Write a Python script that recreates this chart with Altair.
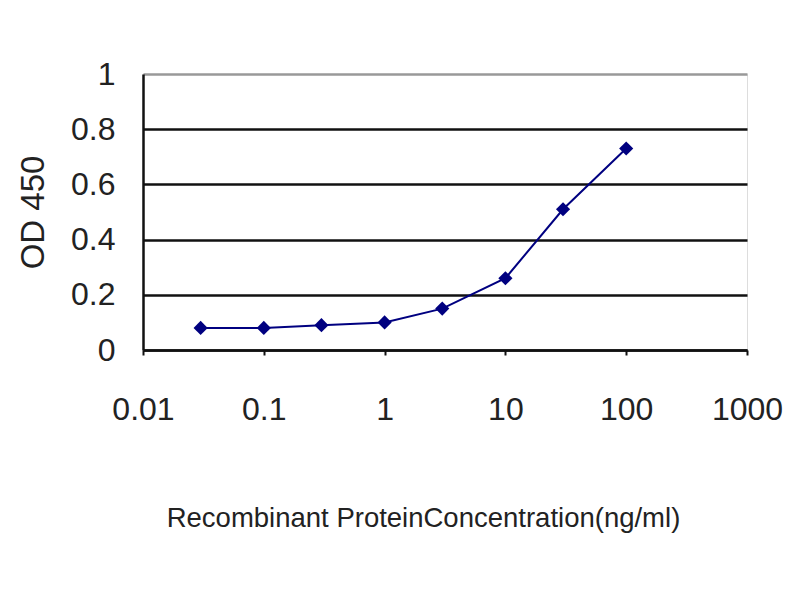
import altair as alt
import pandas as pd

conc = [0.03, 0.1, 0.3, 1, 3, 10, 30, 100]
od = [0.08, 0.08, 0.09, 0.10, 0.15, 0.26, 0.51, 0.73]
x_ticks = [0.01, 0.1, 1, 10, 100, 1000]
y_ticks = [0, 0.2, 0.4, 0.6, 0.8, 1]

df = pd.DataFrame({"conc": conc, "od": od})

FONT = "Liberation Sans"
NAVY = "#000080"

x = alt.X(
    "conc:Q",
    scale=alt.Scale(type="log", domain=[0.01, 1000]),
    axis=alt.Axis(
        values=x_ticks, format="~g", grid=False, domainColor="#111", domainWidth=2.5,
        tickColor="#111", tickSize=5, tickWidth=2, labelFontSize=32, labelFont=FONT,
        labelColor="#222", labelPadding=39, title="Recombinant ProteinConcentration(ng/ml)",
        titleFont=FONT, titleFontSize=27.5, titleFontWeight="normal", titleColor="#222",
        titleX=280, titleY=168, titleBaseline="middle", titleAlign="center",
        labelFlush=False,
    ),
)
y = alt.Y(
    "od:Q",
    scale=alt.Scale(domain=[0, 1]),
    axis=alt.Axis(
        values=y_ticks, format="~g", grid=True,
        gridColor={"condition": {"test": "datum.value >= 1", "value": "#999"}, "value": "#111"},
        gridWidth=2.5, domainColor="#111", domainWidth=2.5, ticks=False,
        labelFontSize=32, labelFont=FONT, labelColor="#222", labelPadding=28,
        title="OD 450", titleFont=FONT, titleFontSize=33, titleFontWeight="normal",
        titleColor="#222", titleX=-110, titleY=138, titleAngle=-90,
        titleBaseline="middle", titleAlign="center", labelFlush=False,
    ),
)

base = alt.Chart(df)
line = base.mark_line(color=NAVY, strokeWidth=2).encode(x=x, y=y)
pts = base.mark_point(shape="diamond", filled=True, color=NAVY, size=200, opacity=1).encode(x=x, y=y)

chart = (
    alt.layer(line, pts)
    .properties(width=604, height=276, autosize=alt.AutoSizeParams(type="none"),
                padding={"left": 135, "top": 66, "right": 45, "bottom": 242})
    .configure_view(stroke="#999", strokeWidth=1.5)
    .configure(background="white")
)

chart.save("out.html", embed_options={"renderer": "svg", "actions": False})
